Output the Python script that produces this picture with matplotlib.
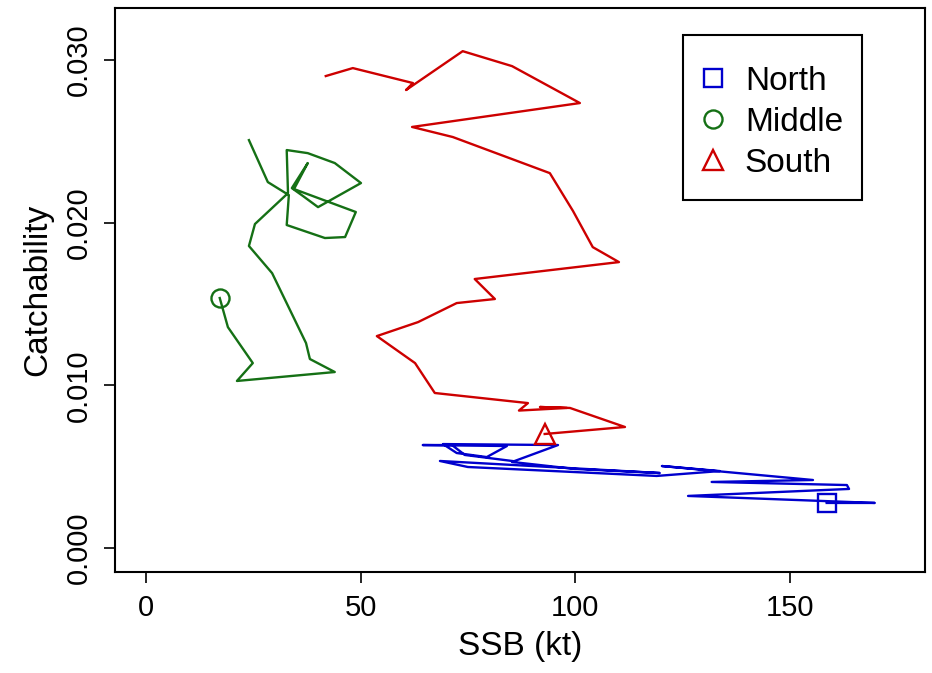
import matplotlib
matplotlib.use('Agg')
import matplotlib.pyplot as plt
from matplotlib.lines import Line2D
from matplotlib.patches import Rectangle

plt.rcParams['font.family'] = ['Liberation Sans', 'DejaVu Sans']

# SSB (kt) and catchability for each stock
north_ssb = [158.6, 169.8, 126.3, 163.8, 163.3, 131.8, 155.4, 120.2, 133.7, 119.0,
             75.0, 68.5, 119.7, 99.9, 85.3, 96.0, 69.2, 72.4, 79.4, 84.1,
             64.5, 71.3, 74.3, 85.3]
north_q = [0.00277, 0.00277, 0.00320, 0.00363, 0.00387, 0.00406, 0.00418, 0.00504, 0.00473, 0.00443,
           0.00498, 0.00535, 0.00461, 0.00486, 0.00529, 0.00633, 0.00639, 0.00584, 0.00559, 0.00627,
           0.00633, 0.00633, 0.00572, 0.00535]

middle_ssb = [17.2, 19.1, 24.9, 21.2, 44.0, 38.2, 37.3, 29.4, 24.0, 25.4,
              33.1, 32.8, 37.7, 44.0, 50.1, 40.1, 36.6, 34.0, 37.7, 34.5,
              48.9, 46.4, 41.7, 32.8, 33.3, 28.4, 24.0]
middle_q = [0.01537, 0.01358, 0.01137, 0.01027, 0.01082, 0.01162, 0.01260, 0.01690, 0.01857, 0.01992,
            0.02182, 0.02447, 0.02428, 0.02367, 0.02244, 0.02096, 0.02164, 0.02213, 0.02367, 0.02207,
            0.02066, 0.01912, 0.01906, 0.01986, 0.02170, 0.02250, 0.02508]

south_ssb = [92.9, 111.6, 98.8, 91.8, 98.1, 86.9, 89.0, 67.3, 62.7, 53.8,
             63.4, 72.4, 81.3, 76.6, 110.2, 104.1, 99.5, 94.1, 71.5, 62.0,
             101.1, 85.3, 73.8, 60.6, 62.2, 48.2, 41.9]
south_q = [0.00701, 0.00744, 0.00861, 0.00867, 0.00861, 0.00845, 0.00891, 0.00953, 0.01137, 0.01303,
           0.01389, 0.01506, 0.01531, 0.01654, 0.01758, 0.01850, 0.02072, 0.02305, 0.02527, 0.02589,
           0.02736, 0.02963, 0.03055, 0.02816, 0.02859, 0.02951, 0.02902]

names = ['North', 'Middle', 'South']
colours = ['#0000CD', '#157015', '#CD0000']
markers = ['s', 'o', '^']
xticks = [0, 50, 100, 150]
yticks = [0.000, 0.010, 0.020, 0.030]

fig = plt.figure(figsize=(9.32, 6.73), dpi=100)
ax = fig.add_axes([0.1234, 0.150, 0.8691, 0.838])

series = [(north_ssb, north_q), (middle_ssb, middle_q), (south_ssb, south_q)]
for (x, y), col, mk in zip(series, colours, markers):
    ax.plot(x, y, color=col, lw=1.7)
    ax.plot(x[0], y[0], marker=mk, ms=13 if mk != '^' else 15, mfc='none', mec=col, mew=1.7, ls='none')

ax.set_xlim(-7.2, 181.5)
ax.set_ylim(-0.00148, 0.0332)
ax.set_xticks(xticks)
ax.set_xticklabels([str(t) for t in xticks])
ax.set_yticks(yticks)
ax.set_yticklabels(['%.3f' % t for t in yticks], rotation=90, va='center')
ax.tick_params(direction='out', length=8, width=1.2, labelsize=21, pad=8)
for s in ax.spines.values():
    s.set_linewidth(1.5)

ax.set_xlabel('SSB (kt)', fontsize=24, labelpad=6)
ax.set_ylabel('Catchability', fontsize=24, labelpad=8)

# legend box drawn separately so its padding matches the R-style legend
ax.add_patch(Rectangle((0.7012, 0.6596), 0.221, 0.2926, transform=ax.transAxes,
                       fill=False, edgecolor='black', lw=1.5, zorder=5))
handles = [Line2D([], [], color=c, marker=m, ls='none', mfc='none', mew=1.7,
                  ms=13 if m != '^' else 15) for c, m in zip(colours, markers)]
ax.legend(handles, names, loc='upper left', bbox_to_anchor=(0.722, 0.897),
          borderaxespad=0, borderpad=0, fontsize=24, frameon=False,
          handletextpad=0.55, labelspacing=0.3, handlelength=0.8)

plt.savefig('out.png', dpi=100)
plt.close()
